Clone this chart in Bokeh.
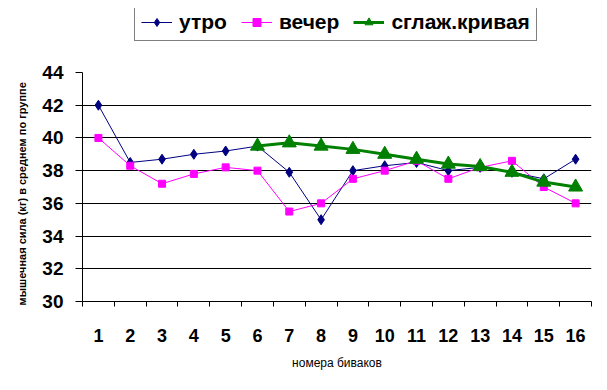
from bokeh.plotting import figure
from bokeh.models import Range1d, FixedTicker, Legend, LegendItem, Title
from bokeh.embed import file_html
from bokeh.resources import INLINE

# ---- data ----
days = list(range(1, 17))
utro = [42.0, 38.5, 38.7, 39.0, 39.2, 39.5, 37.9, 35.0, 38.0, 38.3, 38.5, 38.0, 38.2, 37.9, 37.5, 38.7]
vecher = [40.0, 38.3, 37.2, 37.8, 38.2, 38.0, 35.5, 36.0, 37.5, 38.0, 38.6, 37.5, 38.2, 38.6, 37.0, 36.0]
smooth_days = list(range(6, 17))
smooth = [39.5, 39.7, 39.5, 39.3, 39.0, 38.7, 38.4, 38.25, 37.9, 37.3, 37.0]
y_ticks = [30, 32, 34, 36, 38, 40, 42, 44]
grid_ticks = [32, 34, 36, 38, 40, 42]
series_names = ["утро", "вечер", "сглаж.кривая"]
x_title = "номера биваков"
y_title = "мышечная сила (кг) в среднем по группе"

FONT = "Liberation Sans"

# layout (pixels): frame from top=8 (to hold the legend) to bottom=301; value 44 sits at y=72
FRAME_TOP, AXIS_TOP, FRAME_BOTTOM = 8, 72, 301
y_lo, y_hi = y_ticks[0], y_ticks[-1]
y_end = y_lo + (y_hi - y_lo) * (FRAME_BOTTOM - FRAME_TOP) / (FRAME_BOTTOM - AXIS_TOP)

p = figure(width=600, height=385, output_backend="svg", toolbar_location=None,
           x_range=Range1d(0.5, 16.5), y_range=Range1d(y_lo, y_end),
           min_border_left=82, min_border_right=9, min_border_top=FRAME_TOP,
           min_border_bottom=385 - FRAME_BOTTOM)
p.outline_line_color = None
p.background_fill_color = "white"
p.border_fill_color = "white"

# axes
xa = p.xaxis[0]
xa.ticker = FixedTicker(ticks=days, minor_ticks=[d - 0.5 for d in days] + [days[-1] + 0.5])
xa.major_tick_out = 0
xa.major_tick_in = 0
xa.minor_tick_out = 5
xa.minor_tick_in = 0
xa.minor_tick_line_color = "black"
xa.axis_line_color = "black"
xa.major_label_standoff = 22
xa.major_label_text_font = FONT
xa.major_label_text_font_style = "bold"
xa.major_label_text_font_size = "18px"
xa.major_label_text_color = "black"
xa.axis_label = x_title
xa.axis_label_text_font = FONT
xa.axis_label_text_font_style = "normal"
xa.axis_label_text_font_size = "12px"
xa.axis_label_standoff = 11
xa.axis_label_text_color = "black"

ya = p.yaxis[0]
ya.ticker = FixedTicker(ticks=y_ticks)
ya.bounds = (y_lo, y_hi)
ya.major_tick_out = 7
ya.major_tick_in = 0
ya.minor_tick_line_color = None
ya.axis_line_color = "black"
ya.major_tick_line_color = "black"
ya.major_label_standoff = 12
ya.major_label_text_font = FONT
ya.major_label_text_font_style = "bold"
ya.major_label_text_font_size = "19px"
ya.major_label_text_color = "black"

# y title: anchored at the bottom of the axis so that it is centred on 30..44, not on the taller frame
ytitle = Title(text=y_title, align="left", offset=-4, standoff=24,
               text_font=FONT, text_font_style="bold", text_font_size="11px",
               text_color="black")
p.add_layout(ytitle, "left")

p.xgrid.grid_line_color = None
p.ygrid.ticker = FixedTicker(ticks=grid_ticks)
p.ygrid.grid_line_color = "black"
p.ygrid.grid_line_width = 1
p.ygrid.grid_line_alpha = 1

# series
NAVY = "#000080"
MAG = "#FF00FF"
GREEN = "#008000"

l1 = p.line(days, utro, line_color=NAVY, line_width=1)
m1 = p.scatter(days, utro, marker="diamond", size=10, fill_color=NAVY, line_color=NAVY)
l2 = p.line(days, vecher, line_color=MAG, line_width=1)
m2 = p.scatter(days, vecher, marker="square", size=7, fill_color=MAG, line_color=MAG)
l3 = p.line(smooth_days, smooth, line_color=GREEN, line_width=3)
m3 = p.scatter(smooth_days, smooth, marker="triangle", size=14, fill_color=GREEN, line_color=GREEN)

legend = Legend(items=[
    LegendItem(label=series_names[0], renderers=[l1, m1]),
    LegendItem(label=series_names[1], renderers=[l2, m2]),
    LegendItem(label=series_names[2], renderers=[l3, m3]),
], location=(52, FRAME_BOTTOM - 41), orientation="horizontal")
legend.border_line_color = "black"
legend.border_line_width = 1
legend.background_fill_color = "white"
legend.background_fill_alpha = 1
legend.label_text_font = FONT
legend.label_text_font_style = "bold"
legend.label_text_font_size = "21px"
legend.label_text_color = "black"
legend.glyph_width = 31
legend.glyph_height = 20
legend.label_height = 20
legend.label_standoff = 7
legend.spacing = 14
legend.padding = 6
legend.margin = 0
p.add_layout(legend, "center")

open("out.html", "w").write(file_html(p, INLINE))
